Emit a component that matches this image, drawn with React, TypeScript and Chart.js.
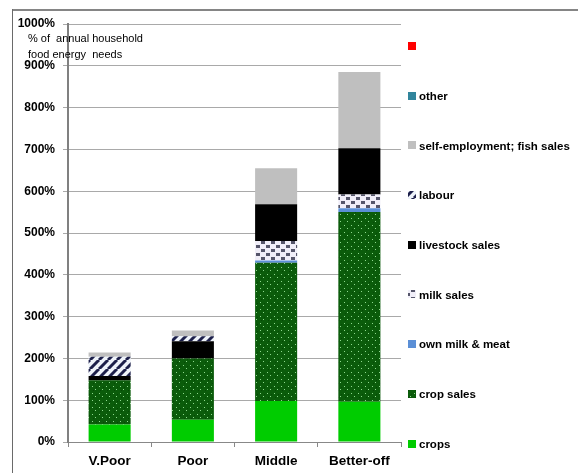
import React, { useEffect, useRef } from 'react';
import { Chart, registerables } from 'chart.js';
Chart.register(...registerables);

const categories = ['V.Poor', 'Poor', 'Middle', 'Better-off'];
const crops = [42, 53, 98, 96];
const cropSales = [106, 147, 331, 454];
const ownMilkMeat = [0, 0, 5, 9];
const milkSales = [0, 0, 47, 33];
const livestockSales = [10, 41, 88, 111];
const labour = [46, 12, 0, 0];
const selfEmployment = [10, 14, 86, 182];
const other = [0, 0, 0, 0];
const unnamed = [0, 0, 0, 0];
const yTicks = [0, 100, 200, 300, 400, 500, 600, 700, 800, 900, 1000];
const yTitleLines = ['% of  annual household', 'food energy  needs'];

const FONT = "'Liberation Sans', Arial, sans-serif";

function makePattern(w: number, h: number, draw: (c: CanvasRenderingContext2D) => void) {
  const cv = document.createElement('canvas');
  cv.width = w;
  cv.height = h;
  const c = cv.getContext('2d')!;
  draw(c);
  const ctx = document.createElement('canvas').getContext('2d')!;
  return ctx.createPattern(cv, 'repeat')!;
}

export default function App() {
  const ref = useRef<HTMLCanvasElement>(null);
  useEffect(() => {
    const canvas = ref.current!;
    const cropSalesPat = makePattern(7, 7, (c) => {
      c.fillStyle = '#0b5c0b';
      c.fillRect(0, 0, 7, 7);
      c.fillStyle = '#064a06';
      c.fillRect(2, 5, 1, 1);
      c.fillRect(5, 2, 1, 1);
      c.fillStyle = '#8ed88e';
      c.fillRect(1, 1, 1, 1);
      c.fillRect(4, 4, 1, 1);
    });
    const labourPat = makePattern(9, 9, (c) => {
      c.fillStyle = '#eef3fa';
      c.fillRect(0, 0, 9, 9);
      c.strokeStyle = '#1c1f4a';
      c.lineWidth = 3;
      for (const o of [-9, 0, 9]) {
        c.beginPath();
        c.moveTo(o, 9);
        c.lineTo(o + 9, 0);
        c.stroke();
      }
    });
    const milkPat = makePattern(10, 8, (c) => {
      c.fillStyle = '#f0eef8';
      c.fillRect(0, 0, 10, 8);
      c.fillStyle = '#55556a';
      c.fillRect(1, 1, 4, 3);
      c.fillRect(6, 5, 4, 3);
    });

    const datasets = [
      { label: 'crops', data: crops, backgroundColor: '#00cc00' },
      { label: 'crop sales', data: cropSales, backgroundColor: cropSalesPat },
      { label: 'own milk & meat', data: ownMilkMeat, backgroundColor: '#5b8fd6' },
      { label: 'milk sales', data: milkSales, backgroundColor: milkPat },
      { label: 'livestock sales', data: livestockSales, backgroundColor: '#000000' },
      { label: 'labour', data: labour, backgroundColor: labourPat },
      { label: 'self-employment; fish sales', data: selfEmployment, backgroundColor: '#bfbfbf' },
      { label: 'other', data: other, backgroundColor: '#31859c' },
      { label: '', data: unnamed, backgroundColor: '#ff0000' },
    ].map((d) => ({ ...d, borderWidth: 0, barPercentage: 0.505, categoryPercentage: 1 }));

    const borderPlugin = {
      id: 'frame',
      beforeDraw(chart: any) {
        const c = chart.ctx;
        c.save();
        c.fillStyle = '#ffffff';
        c.fillRect(0, 0, chart.width, chart.height);
        c.fillStyle = '#858585';
        c.fillRect(12, 9, chart.width - 12, 2);
        c.fillStyle = '#6a6a6a';
        c.fillRect(12, 9, 1, chart.height - 9);
        c.restore();
      },
    };

    const titlePlugin = {
      id: 'ytitle',
      afterDraw(chart: any) {
        const c = chart.ctx;
        c.save();
        c.fillStyle = '#000';
        c.font = `11px ${FONT}`;
        c.textBaseline = 'middle';
        c.textAlign = 'left';
        c.fillText(yTitleLines[0], 28, 39);
        c.fillText(yTitleLines[1], 28, 55);
        c.restore();
      },
    };

    const legendPlugin = {
      id: 'customLegend',
      afterDraw(chart: any) {
        const c = chart.ctx;
        const area = chart.chartArea;
        const ds = chart.data.datasets;
        const n = ds.length;
        const yTop = area.top + 22;
        const yBot = area.bottom + 1.5;
        const step = (yBot - yTop) / (n - 1);
        const x = area.right + 7;
        c.save();
        c.font = `bold 11.5px ${FONT}`;
        c.textBaseline = 'middle';
        c.textAlign = 'left';
        for (let i = 0; i < n; i++) {
          const d = ds[n - 1 - i];
          const y = yTop + step * i;
          c.fillStyle = d.backgroundColor;
          c.fillRect(x, Math.round(y - 4), 8, 8);
          c.fillStyle = '#000';
          c.fillText(d.label, x + 11, y + 1);
        }
        c.restore();
      },
    };

    const chart = new Chart(canvas, {
      type: 'bar',
      data: { labels: categories, datasets: datasets as any },
      options: {
        responsive: false,
        animation: false,
        layout: { padding: { left: 0, top: 24, right: 177, bottom: 0 } },
        plugins: { legend: { display: false }, tooltip: { enabled: false } },
        scales: {
          x: {
            stacked: true,
            afterFit: (s: any) => { s.height = 31; },
            grid: { drawOnChartArea: false, tickLength: 5, color: '#888888', offset: true },
            border: { color: '#888888', width: 1 },
            ticks: { color: '#000', font: { family: FONT, size: 13.5, weight: 'bold' }, padding: 6 },
          },
          y: {
            stacked: true,
            min: 0,
            max: 1000,
            afterFit: (s: any) => { s.width = 68; },
            afterBuildTicks: (s: any) => { s.ticks = yTicks.map((v) => ({ value: v })); },
            grid: { color: '#a9a9a9', lineWidth: 1, tickLength: 5 },
            border: { color: '#808080', width: 2 },
            ticks: {
              color: '#000',
              padding: 8,
              font: { family: FONT, size: 12, weight: 'bold' },
              callback: (v: any) => `${v}%`,
            },
          },
        },
      },
      plugins: [borderPlugin, titlePlugin, legendPlugin],
    });
    return () => chart.destroy();
  }, []);
  return (
    <div style={{ position: 'fixed', left: 0, top: 0, width: 578, height: 473 }}>
      <canvas ref={ref} width={578} height={473} style={{ display: 'block' }} />
    </div>
  );
}
